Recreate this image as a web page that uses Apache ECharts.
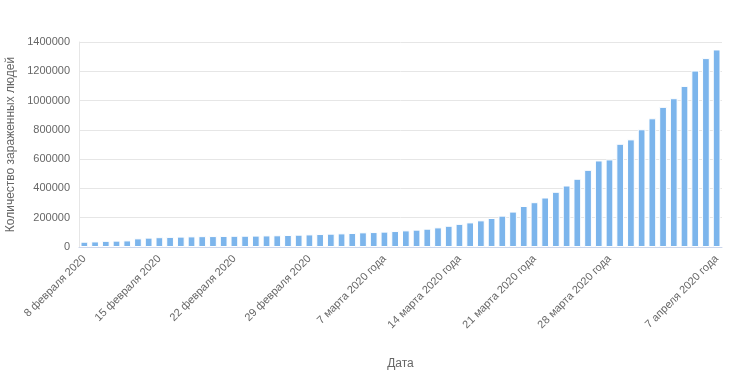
<!DOCTYPE html>
<html>
<head>
<meta charset="utf-8">
<script src="https://cdn.jsdelivr.net/npm/echarts@6/dist/echarts.min.js"></script>
<style>
html,body{margin:0;padding:0;background:#fff;}
#chart{width:730px;height:373px;}
</style>
</head>
<body>
<div id="chart"></div>
<script>
const dates = [
  "8 февраля 2020","9 февраля 2020","10 февраля 2020","11 февраля 2020","12 февраля 2020","13 февраля 2020","14 февраля 2020",
  "15 февраля 2020","16 февраля 2020","17 февраля 2020","18 февраля 2020","19 февраля 2020","20 февраля 2020","21 февраля 2020",
  "22 февраля 2020","23 февраля 2020","24 февраля 2020","25 февраля 2020","26 февраля 2020","27 февраля 2020","28 февраля 2020",
  "29 февраля 2020","1 марта 2020 года","2 марта 2020 года","3 марта 2020 года","4 марта 2020 года","5 марта 2020 года","6 марта 2020 года",
  "7 марта 2020 года","8 марта 2020 года","9 марта 2020 года","10 марта 2020 года","11 марта 2020 года","12 марта 2020 года","13 марта 2020 года",
  "14 марта 2020 года","15 марта 2020 года","16 марта 2020 года","17 марта 2020 года","18 марта 2020 года","19 марта 2020 года","20 марта 2020 года",
  "21 марта 2020 года","22 марта 2020 года","23 марта 2020 года","24 марта 2020 года","25 марта 2020 года","26 марта 2020 года","27 марта 2020 года",
  "28 марта 2020 года","29 марта 2020 года","30 марта 2020 года","31 марта 2020 года","1 апреля 2020 года","2 апреля 2020 года","3 апреля 2020 года",
  "4 апреля 2020 года","5 апреля 2020 года","6 апреля 2020 года","7 апреля 2020 года"
];
const infected = [
  36000, 38000, 42000, 43500, 45000, 59000, 64000,
  67000, 69000, 71000, 72500, 74000, 74500, 75500,
  76500, 77000, 78000, 79000, 80000, 82000, 84000,
  86000, 88500, 91000, 93000, 95500, 100000, 102000,
  105000, 109000, 113500, 118500, 125000, 134000, 145000,
  158000, 168000, 182000, 198000, 214000, 242000, 280000,
  306000, 338000, 377000, 420000, 466000, 527000, 591000,
  598000, 705000, 735000, 804000, 879000, 957000, 1016000,
  1100000, 1205000, 1290000, 1349000
];
const shownLabelIdx = [0, 7, 14, 21, 28, 35, 42, 49, 59];
const yTicks = { min: 0, max: 1400000, interval: 200000 };
const yAxisName = "Количество зараженных людей";
const xAxisName = "Дата";

const font = "'Liberation Sans', Arial, sans-serif";
const chart = echarts.init(document.getElementById('chart'), null, {renderer: 'canvas'});
chart.setOption({
  animation: false,
  textStyle: { fontFamily: font },
  grid: { left: 79, right: 8, top: 42, bottom: 126, containLabel: false, outerBoundsMode: 'none' },
  xAxis: {
    type: 'category',
    data: dates,
    name: xAxisName,
    nameLocation: 'middle',
    nameGap: 111,
    nameTextStyle: { color: '#666', fontSize: 12, fontFamily: font },
    axisLine: { show: true, lineStyle: { color: '#ccd6eb', width: 1 } },
    axisTick: { show: false },
    axisLabel: {
      rotate: 45,
      color: '#666',
      fontSize: 11,
      fontFamily: font,
      margin: 10,
      interval: function (idx) { return shownLabelIdx.indexOf(idx) !== -1; }
    },
    splitLine: { show: false }
  },
  yAxis: {
    type: 'value',
    min: yTicks.min,
    max: yTicks.max,
    interval: yTicks.interval,
    name: yAxisName,
    nameLocation: 'middle',
    nameGap: 60,
    nameRotate: 90,
    nameTextStyle: { color: '#666', fontSize: 12, fontFamily: font },
    axisLine: { show: true, lineStyle: { color: '#e6e6e6', width: 1 } },
    axisTick: { show: false },
    axisLabel: { color: '#666', fontSize: 11, fontFamily: font, margin: 9,
      formatter: function (v) { return String(v); } },
    splitLine: { lineStyle: { color: '#e6e6e6', width: 1 } }
  },
  series: [{
    type: 'bar',
    data: infected,
    barCategoryGap: '28%',
    itemStyle: { color: '#7cb5ec', borderColor: '#ffffff', borderWidth: 1 }
  }]
});
</script>
</body>
</html>
